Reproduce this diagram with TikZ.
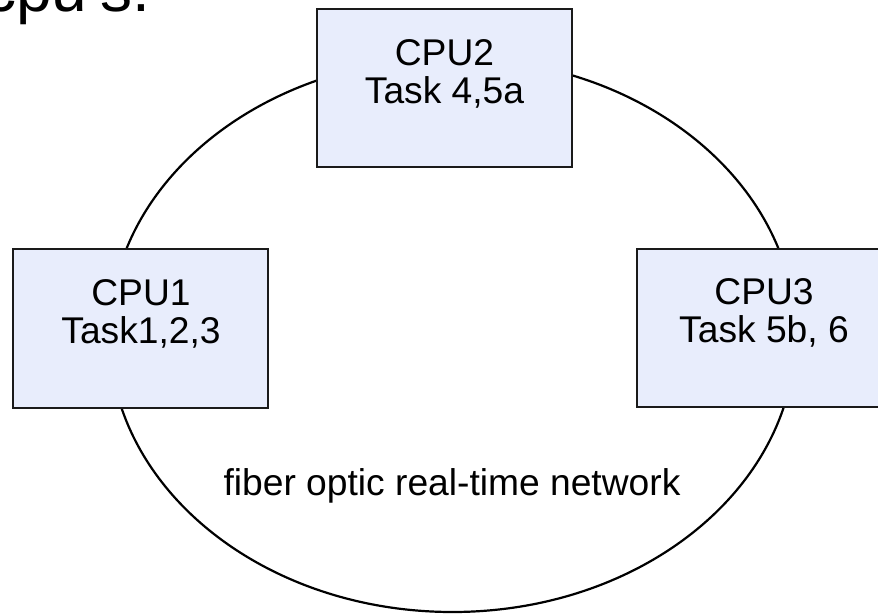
\documentclass[tikz,border=0pt]{standalone}
\usepackage{fontspec}
\setmainfont{Liberation Sans}
\usetikzlibrary{shapes.geometric}
\definecolor{boxfill}{HTML}{E8EDFC}
\definecolor{boxline}{HTML}{1A1A1A}
\tikzset{
  cpubox/.style={draw=boxline, line width=2.6pt, fill=boxfill, rectangle, inner sep=0pt},
  lbl/.style={font=\fontsize{37.2}{39}\selectfont, inner sep=0pt, anchor=base},
  ring/.style={draw=black, line width=2.2pt, ellipse, inner sep=0pt, fill=none}
}
\begin{document}
\begin{tikzpicture}[x=1pt, y=-1pt]
\useasboundingbox (0,0) rectangle (878,613);
\clip (0,0) rectangle (878,613);
% title fragment
\node[font=\fontsize{64}{70}\selectfont, inner sep=0pt, anchor=base west] (title) at (-16,12) {cpu's.};
% network ring
\node[ring, minimum width=686pt, minimum height=554pt] (net) at (452.5,335) {};
\node[lbl] (netlbl) at (452,495) {fiber optic real-time network};
% CPU boxes
\node[cpubox, minimum width=255pt, minimum height=158pt] (cpu2) at (444.5,88) {};
\node[lbl] (cpu2a) at (444.5,65) {CPU2};
\node[lbl] (cpu2b) at (444.5,103) {Task 4,5a};
\node[cpubox, minimum width=255pt, minimum height=159pt] (cpu1) at (140.5,328.5) {};
\node[lbl] (cpu1a) at (141,305) {CPU1};
\node[lbl] (cpu1b) at (141,343) {Task1,2,3};
\node[cpubox, minimum width=254pt, minimum height=158pt] (cpu3) at (764,328) {};
\node[lbl] (cpu3a) at (764,304) {CPU3};
\node[lbl] (cpu3b) at (764,342) {Task 5b, 6};
\end{tikzpicture}
\end{document}
